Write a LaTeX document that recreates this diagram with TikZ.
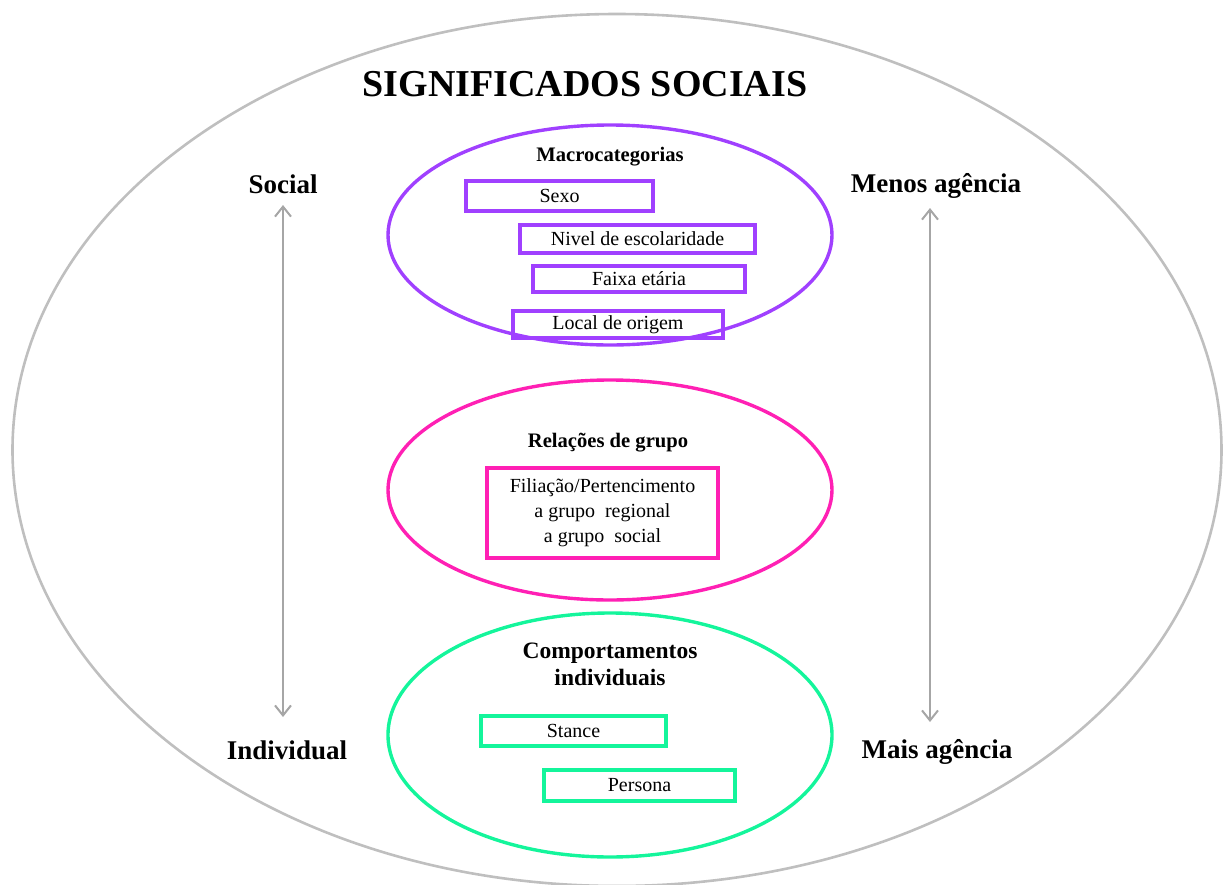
\documentclass[tikz,border=0pt]{standalone}
\usepackage{fontspec}
\setmainfont{Liberation Serif}
\usetikzlibrary{shapes.geometric,arrows.meta}
\definecolor{cinza}{RGB}{191,191,191}
\definecolor{cinzaseta}{RGB}{166,166,166}
\definecolor{roxo}{RGB}{160,64,255}
\definecolor{rosa}{RGB}{255,32,180}
\definecolor{verde}{RGB}{20,245,155}
\tikzset{
  elipse/.style={ellipse,draw=#1,line width=1.7pt,minimum width=222pt,minimum height=110pt,inner sep=0pt},
  caixa/.style={draw=#1,line width=1.7pt,inner sep=0pt,font=\fontsize{10}{12.5}\selectfont},
  cabecalho/.style={font=\fontsize{10.3}{12}\selectfont\bfseries},
  rotulo/.style={font=\fontsize{13.5}{16}\selectfont\bfseries},
  seta/.style={cinzaseta,line width=1pt,{Straight Barb[length=5pt,width=8pt]}-{Straight Barb[length=5pt,width=8pt]}}
}
\begin{document}
\begin{tikzpicture}[x=0.5pt,y=-0.5pt]
      \useasboundingbox (0,0) rectangle (1223,885);
      \node[ellipse,draw=cinza,line width=1.3pt,minimum width=604.5pt,minimum height=436pt,inner sep=0pt] (externo) at (617,450) {};
      \node[font=\fontsize{19}{22}\selectfont\bfseries] (titulo) at (585,84) {SIGNIFICADOS SOCIAIS};
      % elipses
      \node[elipse=roxo] (macro) at (610,235) {};
      \node[elipse=rosa] (relacoes) at (610,490) {};
      \node[elipse=verde,minimum height=122pt] (comport) at (610,735) {};
      % macrocategorias
      \node[cabecalho] (tmacro) at (610,157) {Macrocategorias};
      \node[caixa=roxo,minimum width=93.5pt,minimum height=15pt] (sexo) at (559.5,196) {Sexo};
      \node[caixa=roxo,minimum width=117.5pt,minimum height=14pt] (nivel) at (637.5,239) {Nivel de escolaridade};
      \node[caixa=roxo,minimum width=106pt,minimum height=13pt] (faixa) at (639,279) {Faixa etária};
      \node[caixa=roxo,minimum width=105pt,minimum height=13.5pt] (local) at (618,324.5) {Local de origem};
      % relacoes de grupo
      \node[cabecalho] (trelacoes) at (608,443) {Relações de grupo};
      \node[caixa=rosa,minimum width=115.5pt,minimum height=45pt,align=center] (filiacao) at (602.5,513) {Filiação/Pertencimento\\a grupo\ \ regional\\a grupo\ \ social};
      % comportamentos individuais
      \node[font=\fontsize{11.75}{13.5}\selectfont\bfseries,align=center] (tcomport) at (610,664) {Comportamentos\\individuais};
      \node[caixa=verde,minimum width=92.5pt,minimum height=15pt] (stance) at (573.5,731) {Stance};
      \node[caixa=verde,minimum width=95.5pt,minimum height=15.5pt] (persona) at (639.5,785.5) {Persona};
      % eixos
      \node[rotulo] (social) at (283,184) {Social};
      \node[rotulo] (individual) at (287,750) {Individual};
      \node[rotulo] (menos) at (936,186) {Menos agência};
      \node[rotulo] (mais) at (937,752) {Mais agência};
      \coordinate (s1) at (283,205);
      \coordinate (s2) at (283,717);
      \coordinate (a1) at (930,208);
      \coordinate (a2) at (930,722);
      \draw[seta] (s1) -- (s2);
      \draw[seta] (a1) -- (a2);
    \end{tikzpicture}
\end{document}
